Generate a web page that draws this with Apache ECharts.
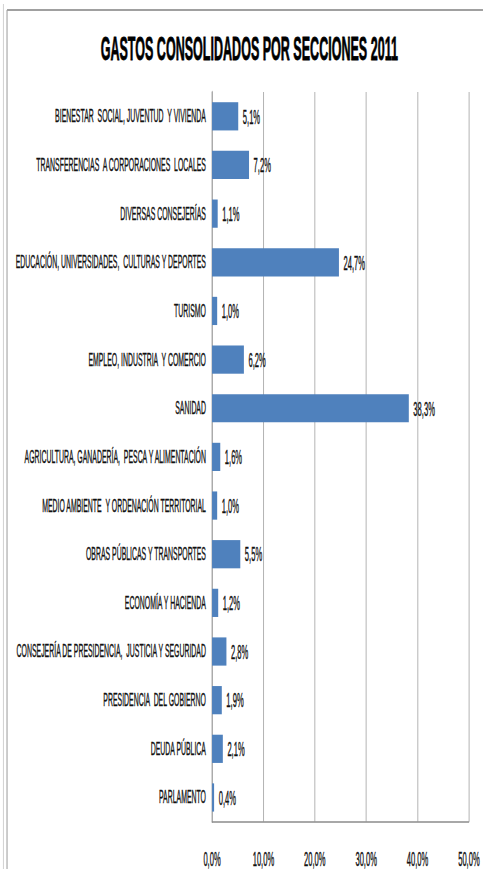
<!DOCTYPE html>
<html>
<head>
<meta charset="utf-8">
<script src="https://cdn.jsdelivr.net/npm/echarts@6/dist/echarts.min.js"></script>
<style>
  html, body { margin: 0; padding: 0; background: #fff; overflow: hidden; }
  /* the reference is squeezed sideways, so the chart is drawn wider and scaled down */
  #chart { width: 1271px; height: 869px; transform: scaleX(0.38); transform-origin: 0 0; }
</style>
</head>
<body>
<div id="chart"></div>
<script>
  const categories = [
    'BIENESTAR  SOCIAL, JUVENTUD  Y VIVIENDA',
    'TRANSFERENCIAS  A CORPORACIONES  LOCALES',
    'DIVERSAS CONSEJERÍAS',
    'EDUCACIÓN, UNIVERSIDADES,  CULTURAS Y DEPORTES',
    'TURISMO',
    'EMPLEO, INDUSTRIA  Y COMERCIO',
    'SANIDAD',
    'AGRICULTURA, GANADERÍA,  PESCA Y ALIMENTACIÓN',
    'MEDIO AMBIENTE  Y ORDENACIÓN TERRITORIAL',
    'OBRAS PÚBLICAS Y TRANSPORTES',
    'ECONOMÍA Y HACIENDA',
    'CONSEJERÍA DE PRESIDENCIA,  JUSTICIA Y SEGURIDAD',
    'PRESIDENCIA  DEL GOBIERNO',
    'DEUDA PÚBLICA',
    'PARLAMENTO'
  ]
  const shares = [5.1, 7.2, 1.1, 24.7, 1.0, 6.2, 38.3, 1.6, 1.0, 5.5, 1.2, 2.8, 1.9, 2.1, 0.4]
  const axisMin = 0
  const axisMax = 50
  const axisStep = 10

  const pct = v => v.toFixed(1).replace('.', ',') + '%'
  const font = '"Liberation Sans", Arial, sans-serif'

  const chart = echarts.init(document.getElementById('chart'), null, { renderer: 'svg' })
  chart.setOption({
    animation: false,
    title: {
      text: 'GASTOS CONSOLIDADOS POR SECCIONES 2011',
      left: 651,
      top: 27,
      textAlign: 'center',
      textStyle: { fontFamily: font, fontWeight: 'bold', fontSize: 33, color: '#000', textBorderColor: '#000', textBorderWidth: 0.8 }
    },
    graphic: [
      { type: 'line', shape: { x1: 9, y1: 4, x2: 9, y2: 869 }, style: { stroke: '#d0d0d0', lineWidth: 2.6 } },
      { type: 'line', shape: { x1: 18.5, y1: 10, x2: 18.5, y2: 869 }, style: { stroke: '#999', lineWidth: 2.6 } },
      { type: 'line', shape: { x1: 18.5, y1: 10, x2: 1271, y2: 10 }, style: { stroke: '#a0a0a0', lineWidth: 2 } }
    ],
    grid: { left: 558, right: 37, top: 92, bottom: 47 },
    xAxis: {
      type: 'value',
      min: axisMin,
      max: axisMax,
      interval: axisStep,
      axisLine: { show: true, lineStyle: { color: '#8c8c8c', width: 1.5 } },
      axisTick: { show: false },
      axisLabel: { margin: 27, formatter: pct, fontFamily: font, fontSize: 20, color: '#111', textBorderColor: '#111', textBorderWidth: 0.4 },
      splitLine: { show: true, lineStyle: { color: '#b3b3b3', width: 2.6 } }
    },
    yAxis: {
      type: 'category',
      inverse: true,
      data: categories,
      axisTick: { show: false },
      axisLine: { show: true, lineStyle: { color: '#a0a0a0', width: 2.6 } },
      axisLabel: { margin: 16, fontFamily: font, fontSize: 18.2, color: '#111', textBorderColor: '#111', textBorderWidth: 0.4 }
    },
    series: [{
      type: 'bar',
      data: shares,
      barCategoryGap: '42%',
      itemStyle: { color: '#4f81bd' },
      label: {
        show: true,
        position: 'right',
        distance: 12,
        formatter: p => pct(p.value),
        fontFamily: font,
        fontSize: 20,
        color: '#111',
        textBorderColor: '#111',
        textBorderWidth: 0.4
      }
    }]
  })
</script>
</body>
</html>
